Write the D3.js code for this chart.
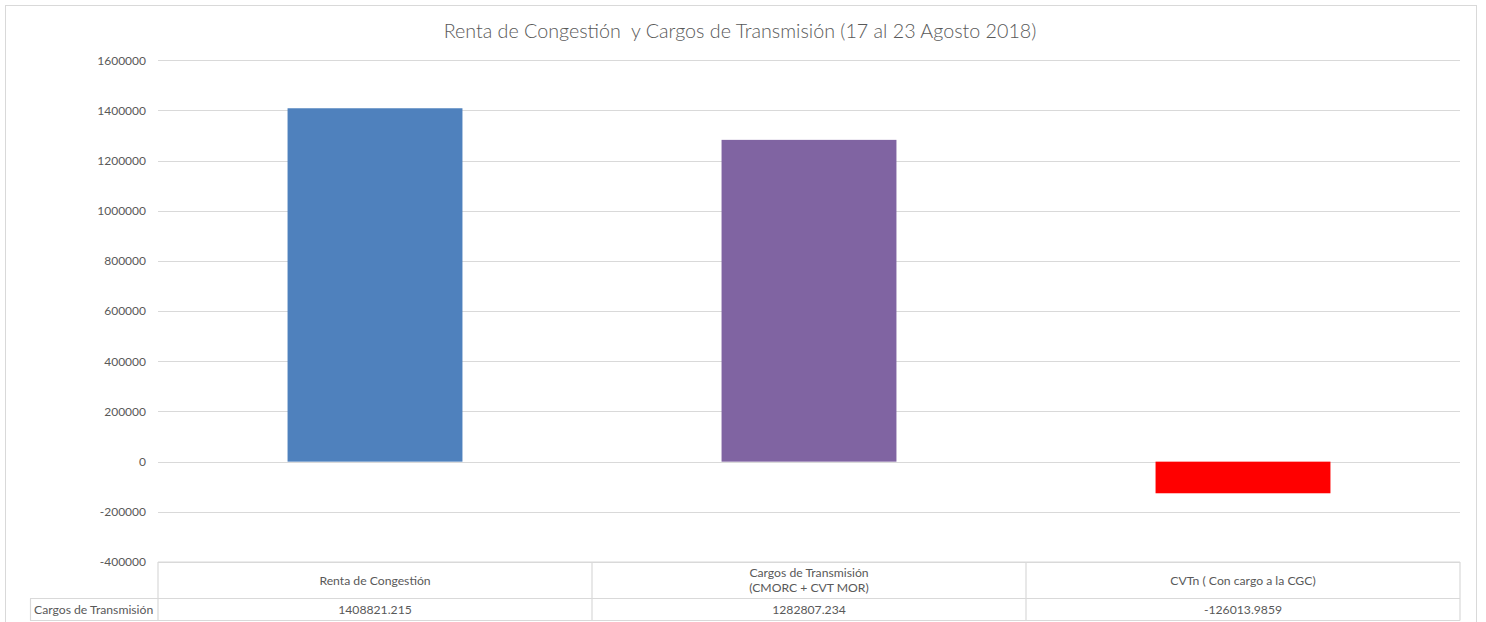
<!DOCTYPE html>
<html><head><meta charset="utf-8">
<script src="https://cdn.jsdelivr.net/npm/d3@7"></script>
<style>body{margin:0;background:#fff}text{font-family:Lato,"Open Sans",sans-serif;white-space:pre}</style>
</head><body>
<svg id="c" width="1486" height="622"></svg>
<script>
const title = "Renta de Congestión  y Cargos de Transmisión (17 al 23 Agosto 2018)";
const categories = ["Renta de Congestión", "Cargos de Transmisión\n(CMORC + CVT MOR)", "CVTn ( Con cargo a la CGC)"];
const seriesName = "Cargos de Transmisión";
const values = [1408821.215, 1282807.234, -126013.9859];
const valueLabels = ["1408821.215", "1282807.234", "-126013.9859"];
const colors = ["#4f81bd", "#8064a2", "#ff0000"];
const yTicks = [-400000, -200000, 0, 200000, 400000, 600000, 800000, 1000000, 1200000, 1400000, 1600000];

const svg = d3.select("#c");
const L = 158, R = 1460, T = 60.3, B = 562;
svg.append("rect").attr("x",5.5).attr("y",5.5).attr("width",1471).attr("height",640)
  .attr("fill","none").attr("stroke","#d9d9d9");
svg.append("text").attr("x",740).attr("y",38).attr("text-anchor","middle")
  .attr("font-size",19.7).attr("font-weight",300).attr("fill","#595959").text(title);

const y = d3.scaleLinear().domain([-400000,1600000]).range([B,T]);
const x = d3.scaleBand().domain(d3.range(categories.length)).range([L,R])
  .paddingInner(0.597).paddingOuter(0.2985);
const step = x.step();

svg.append("g").selectAll("line").data(yTicks).join("line")
  .attr("x1",L).attr("x2",R).attr("y1",d=>Math.round(y(d))+0.5).attr("y2",d=>Math.round(y(d))+0.5)
  .attr("stroke","#d9d9d9").attr("stroke-width",1);
const yAxis = d3.axisLeft(y).tickValues(yTicks).tickSize(0).tickPadding(0).tickFormat(d=>String(d));
const ga = svg.append("g").attr("transform",`translate(146,0)`).call(yAxis);
ga.select(".domain").remove();
ga.selectAll("text").attr("font-size",12).attr("fill","#595959").attr("font-family","Lato,'Open Sans',sans-serif");

svg.append("g").selectAll("rect").data(values).join("rect")
  .attr("x",(d,i)=>x(i)).attr("width",x.bandwidth())
  .attr("y",d=>y(Math.max(0,d))).attr("height",d=>Math.abs(y(d)-y(0)))
  .attr("fill",(d,i)=>colors[i]);

const r1 = B, r2 = 598.5, r3 = 620.5;
const tg = svg.append("g").attr("stroke","#d9d9d9").attr("stroke-width",1.2);
tg.append("line").attr("x1",L).attr("x2",R).attr("y1",r1).attr("y2",r1);
tg.append("line").attr("x1",30).attr("x2",R).attr("y1",r2).attr("y2",r2);
tg.append("line").attr("x1",30).attr("x2",R).attr("y1",r3).attr("y2",r3);
tg.append("line").attr("x1",30.5).attr("x2",30.5).attr("y1",r2).attr("y2",r3);
d3.range(categories.length+1).forEach(i=>{
  const xx = L + i*step;
  tg.append("line").attr("x1",xx).attr("x2",xx).attr("y1",r1).attr("y2",r3);
});
const fs = 12.2;
categories.forEach((c,i)=>{
  const lines = c.split("\n");
  const cx = x(i)+x.bandwidth()/2;
  const t = svg.append("text").attr("text-anchor","middle").attr("font-size",fs).attr("fill","#595959");
  const y0 = (r1+r2)/2 + 4.5 - (lines.length-1)*7.5;
  lines.forEach((ln,k)=>t.append("tspan").attr("x",cx).attr("y",y0+k*15).text(ln));
  svg.append("text").attr("x",cx).attr("y",(r2+r3)/2+4.5).attr("text-anchor","middle")
    .attr("font-size",fs).attr("fill","#595959").text(valueLabels[i]);
});
svg.append("text").attr("x",34).attr("y",(r2+r3)/2+4.5).attr("font-size",fs).attr("fill","#595959").text(seriesName);
</script>
</body></html>
